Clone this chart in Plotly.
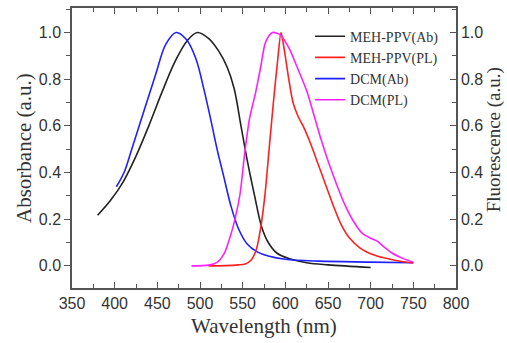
import plotly.graph_objects as go

# MEH-PPV absorbance
meh_ab_x = [380, 395, 410, 425, 440, 455, 470, 485, 497, 510, 522, 532, 540, 548, 556, 564, 572, 580, 590, 605, 625, 650, 700]
meh_ab_y = [0.217, 0.28, 0.36, 0.47, 0.6, 0.74, 0.87, 0.965, 1.0, 0.975, 0.92, 0.85, 0.76, 0.6, 0.44, 0.3, 0.17, 0.1, 0.055, 0.03, 0.013, 0.004, -0.007]
# MEH-PPV photoluminescence
meh_pl_x = [510, 530, 545, 553, 560, 566, 571, 576, 581, 586, 591, 595, 599, 604, 609, 615, 622, 630, 638, 647, 656, 665, 675, 688, 705, 728, 750]
meh_pl_y = [0.0, 0.001, 0.004, 0.008, 0.025, 0.07, 0.16, 0.3, 0.5, 0.7, 0.88, 1.0, 0.92, 0.8, 0.7, 0.64, 0.59, 0.52, 0.44, 0.35, 0.26, 0.18, 0.12, 0.075, 0.045, 0.024, 0.012]
# DCM absorbance
dcm_ab_x = [402, 411, 420, 434, 448, 460, 472, 484, 495, 505, 513, 520, 528, 536, 545, 555, 567, 580, 600, 640, 700, 750]
dcm_ab_y = [0.339, 0.4, 0.5, 0.66, 0.82, 0.95, 1.0, 0.97, 0.89, 0.75, 0.62, 0.5, 0.38, 0.26, 0.16, 0.095, 0.06, 0.042, 0.028, 0.02, 0.016, 0.013]
# DCM photoluminescence
dcm_pl_x = [490, 510, 520, 528, 535, 541, 547, 552, 558, 565, 571, 577, 585, 594, 604, 614, 625, 634, 642, 650, 660, 670, 680, 690, 700, 708, 716, 725, 737, 750]
dcm_pl_y = [0.0, 0.003, 0.015, 0.05, 0.12, 0.2, 0.31, 0.47, 0.63, 0.74, 0.85, 0.96, 1.0, 0.99, 0.935, 0.85, 0.75, 0.64, 0.54, 0.45, 0.35, 0.26, 0.19, 0.14, 0.118, 0.105, 0.08, 0.055, 0.033, 0.015]

x_ticks = [350, 400, 450, 500, 550, 600, 650, 700, 750, 800]
y_ticks = [0.0, 0.2, 0.4, 0.6, 0.8, 1.0]

serif = "Liberation Serif, Times New Roman, serif"
sans = "Liberation Sans, Arial, sans-serif"
axcol = "#555555"

fig = go.Figure()
fig.add_trace(go.Scatter(x=meh_ab_x, y=meh_ab_y, mode="lines", name="MEH-PPV(Ab)",
                         line=dict(color="#222222", width=1.6, shape="spline", smoothing=1.0)))
fig.add_trace(go.Scatter(x=meh_pl_x, y=meh_pl_y, mode="lines", name="MEH-PPV(PL)", yaxis="y2",
                         line=dict(color="#ff2020", width=1.6, shape="spline", smoothing=0.8)))
fig.add_trace(go.Scatter(x=dcm_ab_x, y=dcm_ab_y, mode="lines", name="DCM(Ab)",
                         line=dict(color="#2020ff", width=1.6, shape="spline", smoothing=1.0)))
fig.add_trace(go.Scatter(x=dcm_pl_x, y=dcm_pl_y, mode="lines", name="DCM(PL)", yaxis="y2",
                         line=dict(color="#ff20ff", width=1.6, shape="spline", smoothing=0.8)))

yr = [-0.095, 1.105]
fig.update_layout(
    width=507, height=343,
    margin=dict(l=72, r=51, t=6, b=55),
    paper_bgcolor="white", plot_bgcolor="white",
    showlegend=True,
    legend=dict(x=0.62, y=0.955, xanchor="left", yanchor="top",
                bgcolor="rgba(0,0,0,0)", font=dict(family=serif, size=14, color="#333333"),
                tracegroupgap=0, itemwidth=30),
    xaxis=dict(range=[350, 800], tickvals=x_ticks, ticks="inside", ticklen=6, tickwidth=1.3,
               tickcolor=axcol, showline=True, linecolor=axcol, linewidth=1.5, mirror="ticks",
               showgrid=False, zeroline=False,
               tickfont=dict(family=sans, size=16, color="#333333"),
               minor=dict(dtick=25, ticks="inside", ticklen=4, tickcolor=axcol, tickwidth=1.2, showgrid=False)),
    yaxis=dict(range=yr, tickvals=y_ticks, ticks="outside", ticklen=6, tickwidth=1.3, tickcolor=axcol,
               showline=True, linecolor=axcol, linewidth=1.5, showgrid=False, zeroline=False,
               tickformat=".1f", tickfont=dict(family=sans, size=16, color="#333333"),
               minor=dict(dtick=0.1, ticks="outside", ticklen=4, tickcolor=axcol, tickwidth=1.2, showgrid=False)),
    yaxis2=dict(range=yr, tickvals=y_ticks, overlaying="y", side="right", ticks="inside", ticklen=6,
                tickwidth=1.3, tickcolor=axcol, showline=True, linecolor=axcol, linewidth=1.5,
                showgrid=False, zeroline=False, tickformat=".1f",
                tickfont=dict(family=sans, size=16, color="#333333"),
                minor=dict(dtick=0.1, ticks="inside", ticklen=4, tickcolor=axcol, tickwidth=1.2, showgrid=False)),
    annotations=[
        dict(text="Absorbance (a.u.)", xref="paper", yref="paper", x=-0.125, y=0.5,
             xanchor="center", yanchor="middle", textangle=-90, showarrow=False,
             font=dict(family=serif, size=21, color="#333333")),
        dict(text="Fluorescence (a.u.)", xref="paper", yref="paper", x=1.098, y=0.53,
             xanchor="center", yanchor="middle", textangle=-90, showarrow=False,
             font=dict(family=serif, size=19, color="#333333")),
        dict(text="Wavelength (nm)", xref="paper", yref="paper", x=0.5, y=-0.135,
             xanchor="center", yanchor="middle", showarrow=False,
             font=dict(family=serif, size=21, color="#333333")),
    ],
)

fig.write_html("out.html", config={"displayModeBar": False},
               post_script="document.body.style.margin='0';document.body.style.overflow='hidden';")
